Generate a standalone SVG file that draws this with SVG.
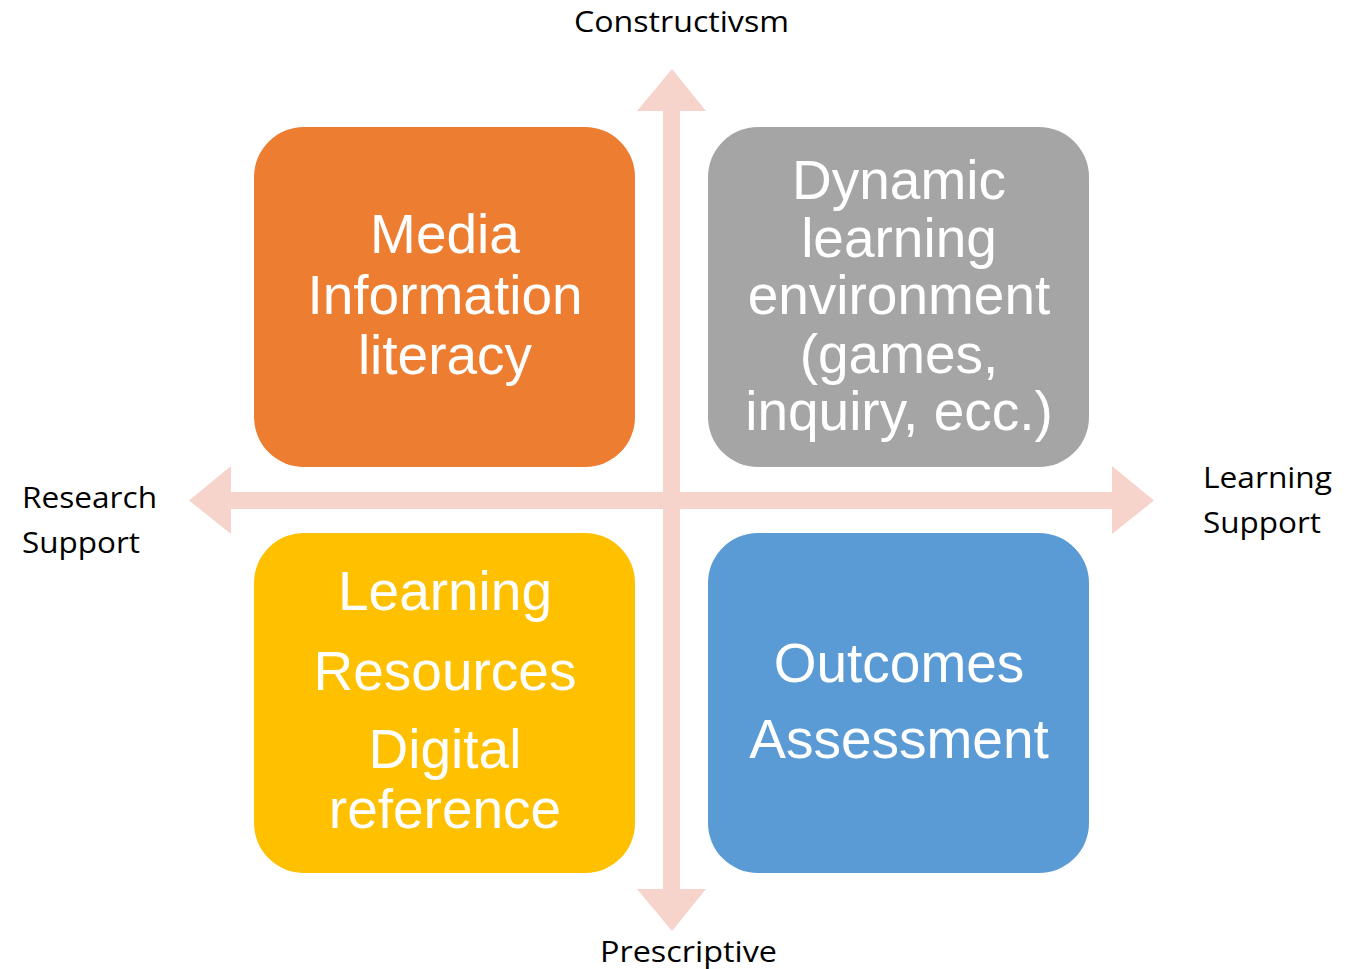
<svg xmlns="http://www.w3.org/2000/svg" width="1354" height="969" viewBox="0 0 1354 969">
<style>
.box text{font-family:"Liberation Sans",Arial,sans-serif;font-size:55px;fill:#fff;text-anchor:middle}
.lbl{font-family:"Open Sans","Liberation Sans",sans-serif;font-size:30px;fill:#000}
.ax{fill:#F7D4CB}
</style>
<rect width="1354" height="969" fill="#fff"/>
<g id="connectors">
<polygon class="ax" points="663,111 637,111 672,69 706,111 680,111 680,889 706,889 672,931 637,889 663,889"/>
<polygon class="ax" points="231,492 231,466 189,500.5 231,534 231,509 1112,509 1112,534 1154,500.5 1112,466 1112,492"/>
</g>
<g id="media" class="box">
<rect x="254" y="127" width="381" height="340" rx="50" fill="#ED7D31"/>
<text x="445" y="253">Media</text>
<text x="445" y="314">Information</text>
<text x="445" y="374">literacy</text>
</g>
<g id="dynamic" class="box">
<rect x="708" y="127" width="381" height="340" rx="50" fill="#A5A5A5"/>
<text x="899" y="199">Dynamic</text>
<text x="899" y="257">learning</text>
<text x="899" y="314">environment</text>
<text x="899" y="373">(games,</text>
<text x="899" y="430">inquiry, ecc.)</text>
</g>
<g id="learning" class="box">
<rect x="254" y="533" width="381" height="340" rx="50" fill="#FFC000"/>
<text x="445" y="610">Learning</text>
<text x="445" y="690">Resources</text>
<text x="445" y="768">Digital</text>
<text x="445" y="828">reference</text>
</g>
<g id="outcomes" class="box">
<rect x="708" y="533" width="381" height="340" rx="50" fill="#5B9BD5"/>
<text x="899" y="682">Outcomes</text>
<text x="899" y="758">Assessment</text>
</g>
<g id="labels">
<text class="lbl" x="574" y="32" textLength="215" lengthAdjust="spacingAndGlyphs">Constructivsm</text>
<text class="lbl" x="600" y="962" textLength="177" lengthAdjust="spacingAndGlyphs">Prescriptive</text>
<text class="lbl" x="22" y="508" textLength="135" lengthAdjust="spacingAndGlyphs">Research</text>
<text class="lbl" x="22" y="553" textLength="118" lengthAdjust="spacingAndGlyphs">Support</text>
<text class="lbl" x="1203" y="488" textLength="129" lengthAdjust="spacingAndGlyphs">Learning</text>
<text class="lbl" x="1203" y="533" textLength="118" lengthAdjust="spacingAndGlyphs">Support</text>
</g>
</svg>
